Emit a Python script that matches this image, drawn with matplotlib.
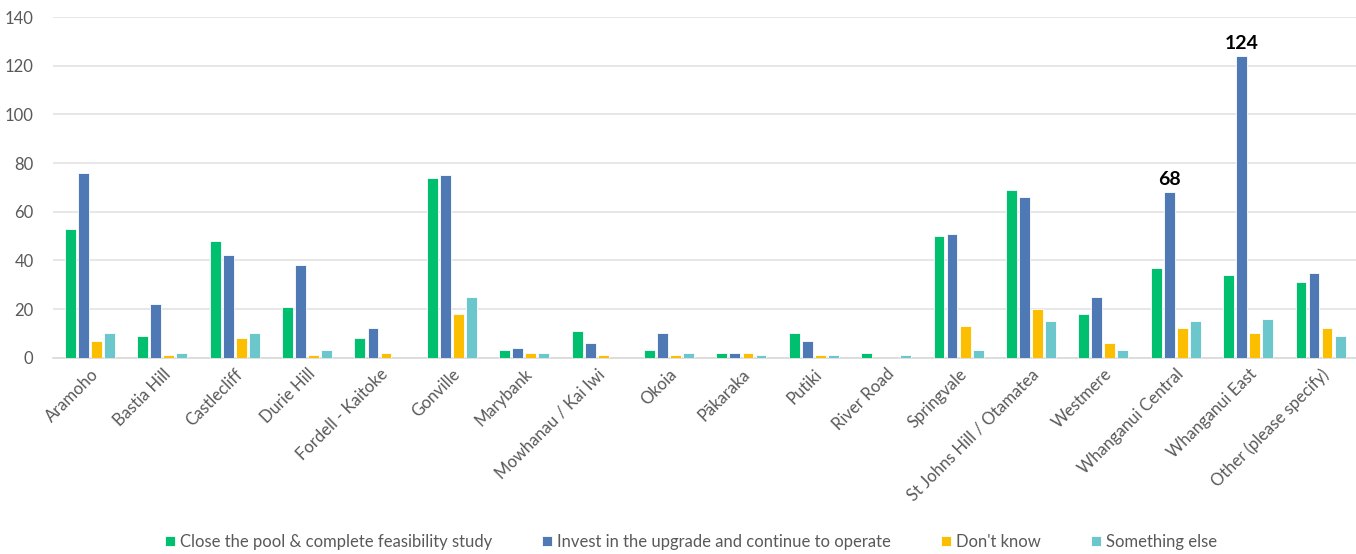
import matplotlib
matplotlib.use("Agg")
import matplotlib.pyplot as plt
import numpy as np

suburbs = ["Aramoho", "Bastia Hill", "Castlecliff", "Durie Hill", "Fordell - Kaitoke",
           "Gonville", "Marybank", "Mowhanau / Kai Iwi", "Okoia", "Pākaraka", "Putiki",
           "River Road", "Springvale", "St Johns Hill / Otamatea", "Westmere",
           "Whanganui Central", "Whanganui East", "Other (please specify)"]

close_pool = [53, 9, 48, 21, 8, 74, 3, 11, 3, 2, 10, 2, 50, 69, 18, 37, 34, 31]
invest = [76, 22, 42, 38, 12, 75, 4, 6, 10, 2, 7, 0, 51, 66, 25, 68, 124, 35]
dont_know = [7, 1, 8, 1, 2, 18, 2, 1, 1, 2, 1, 0, 13, 20, 6, 12, 10, 12]
something_else = [10, 2, 10, 3, 0, 25, 2, 0, 2, 1, 1, 1, 3, 15, 3, 15, 16, 9]

series_names = ["Close the pool & complete feasibility study",
                "Invest in the upgrade and continue to operate",
                "Don't know", "Something else"]
colors = ["#00BF6F", "#4E79B4", "#FBBE00", "#6CC7CC"]

y_ticks = [0, 20, 40, 60, 80, 100, 120, 140]
labelled = {15: 68, 16: 124}  # category index -> value shown above the "Invest" bar

plt.rcParams["font.family"] = ["Lato", "DejaVu Sans"]

fig = plt.figure(figsize=(13.56, 5.54), dpi=100)
ax = fig.add_axes([53 / 1356, 1 - 357.7 / 554, 1 - 53 / 1356, (357.7 - 17) / 554])

x = np.arange(len(suburbs))
step = 0.18
width = 0.15
all_series = [close_pool, invest, dont_know, something_else]
bars = []
for i, (vals, name, col) in enumerate(zip(all_series, series_names, colors)):
    b = ax.bar(x + (i - 1.5) * step, vals, width, color=col, label=name,
               edgecolor="white", linewidth=0.6, zorder=3)
    bars.append(b)

for idx, val in labelled.items():
    ax.text(x[idx] + (1 - 1.5) * step, invest[idx] + 1.8, str(val), ha="center",
            va="bottom", fontsize=14, fontweight="bold", color="black")

ax.set_xlim(-0.51, 17.49)
ax.set_ylim(0, 140)
ax.set_yticks(y_ticks)
ax.set_yticklabels([str(t) for t in y_ticks])
ax.grid(axis="y", color="#E3E3E3", linewidth=1.2, zorder=0)
ax.set_axisbelow(True)
for s in ["top", "right", "left"]:
    ax.spines[s].set_visible(False)
ax.spines["bottom"].set_color("#D9D9D9")
ax.spines["bottom"].set_linewidth(1.2)
ax.tick_params(axis="both", length=0, colors="#595959", labelsize=12)
ax.tick_params(axis="y", pad=14)

ax.set_xticks(x)
ax.set_xticklabels(suburbs, rotation=45, ha="right", rotation_mode="anchor",
                   fontsize=12, color="#595959")
ax.tick_params(axis="x", pad=6)

leg = fig.legend(handles=bars, labels=series_names, loc="center",
                 bbox_to_anchor=(0.5096, 0.022), ncol=4, frameon=False,
                 fontsize=12, handlelength=0.6, handleheight=0.6,
                 handletextpad=0.3, columnspacing=3.0, labelcolor="#595959")

fig.savefig("out.png", dpi=100, facecolor="white")
